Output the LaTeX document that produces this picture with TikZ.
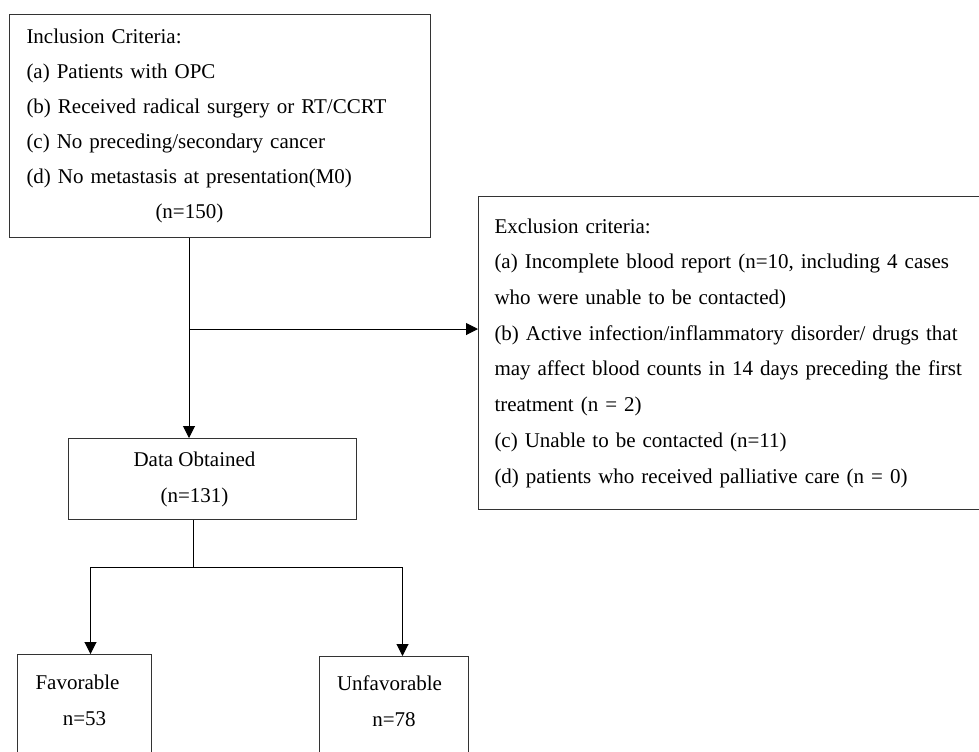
\documentclass[tikz,border=0pt]{standalone}
\usepackage{fontspec}
\setmainfont{Liberation Serif}
\usetikzlibrary{arrows.meta}

\begin{document}
\begin{tikzpicture}[x=0.5pt,y=-0.5pt,line width=0.5pt,
  >={Triangle[length=6pt,width=6pt]},
  box/.style={draw=black!80, anchor=north west, inner ysep=0pt,
    font=\fontsize{10.5}{17.5}\selectfont}]
  \useasboundingbox (0,0) rectangle (979,751);

  \node[box, align=left, text width=193.5pt, inner xsep=8.5pt, minimum height=111.5pt] (incl) at (9,14)
  {Inclusion Criteria:\\
   (a) Patients with OPC\\
   (b) Received radical surgery or RT/CCRT\\
   (c) No preceding/secondary cancer\\
   (d) No metastasis at presentation(M0)\\
   \hspace*{64.5pt}(n=150)};
  \node[box, align=left, text width=244pt, inner xsep=8pt, minimum height=156.5pt,
    font=\fontsize{10.5}{17.85}\selectfont] (excl) at (478,196)
  {Exclusion criteria:\\
   (a) Incomplete blood report (n=10, including 4 cases\\
   who were unable to be contacted)\\
   (b) Active infection/inflammatory disorder/ drugs that\\
   may affect blood counts in 14 days preceding the first\\
   treatment (n = 2)\\
   (c) Unable to be contacted (n=11)\\
   (d) patients who received palliative care (n = 0)};
  \node[box, align=center, minimum width=144pt, minimum height=40.5pt,
    font=\fontsize{10.5}{18}\selectfont] (data) at (68,438)
  {Data Obtained\hspace*{18pt}\\ (n=131)\hspace*{18pt}};
  \node[box, align=center, minimum width=67pt, minimum height=69pt,
    font=\fontsize{10.5}{18}\selectfont] (fav) at (17,654)
  {Favorable\hspace*{7pt}\\ n=53\hspace*{7pt}\\ \strut};
  \node[box, align=center, minimum width=74.5pt, minimum height=68pt,
    font=\fontsize{10.5}{18}\selectfont] (unf) at (319,656)
  {Unfavorable\hspace*{4.5pt}\\ n=78\hspace*{4.5pt}\\ \strut};

  \coordinate (trunk) at (189,329);
  \coordinate (fork) at (193,567);
  \draw[->] (incl.south -| trunk) -- (data.north -| trunk);
  \draw[->] (trunk) -- (excl.west |- trunk);
  \draw (data.south -| fork) -- (fork);
  \draw[->] (fork) -| ([xshift=3pt]fav.north);
  \draw[->] (fork) -| ([xshift=4.25pt]unf.north);
\end{tikzpicture}
\end{document}
